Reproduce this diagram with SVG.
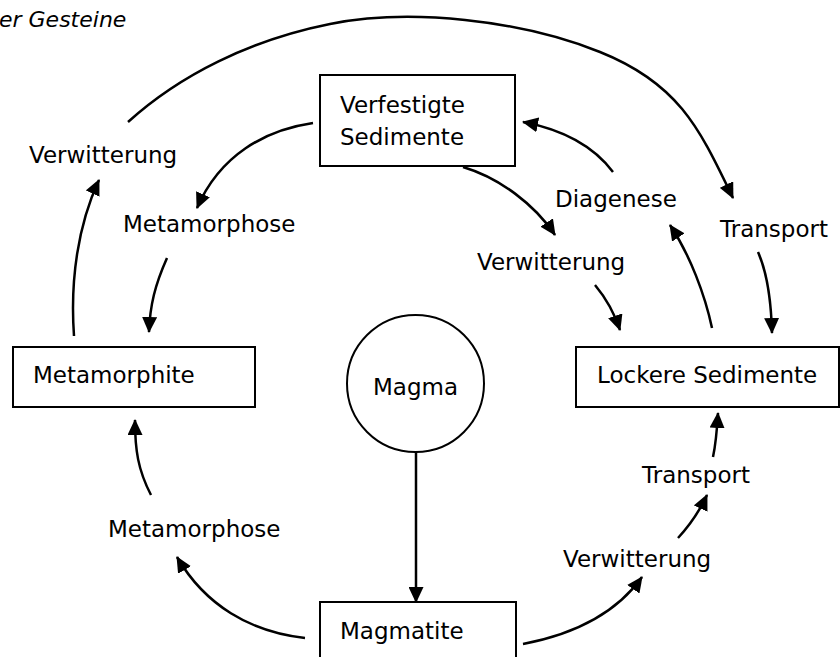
<svg xmlns="http://www.w3.org/2000/svg" width="840" height="657" viewBox="0 0 840 657">
<style>
text { font-family: "DejaVu Sans", Verdana, sans-serif; font-size: 23px; fill: #000; }
.title { font-style: italic; font-size: 22px; }
.box { fill: #fff; stroke: #000; stroke-width: 2; }
.conn path, .conn line { fill: none; stroke: #000; stroke-width: 2.5; marker-end: url(#arr); }
</style>
<defs>
<marker id="arr" viewBox="0 0 16 15" refX="15" refY="7.5" markerWidth="16" markerHeight="15" orient="auto" markerUnits="userSpaceOnUse">
<path d="M0,0 L16,7.5 L0,15 z" fill="#000"/>
</marker>
</defs>
<rect x="0" y="0" width="840" height="657" fill="#fff"/>
<text class="title" x="-1" y="27">er Gesteine</text>

<g id="verfestigte">
<rect class="box" x="320" y="75" width="195" height="91"/>
<text x="340" y="113">Verfestigte</text>
<text x="340" y="145">Sedimente</text>
</g>
<g id="metamorphite">
<rect class="box" x="13" y="347" width="242" height="60"/>
<text x="33" y="383">Metamorphite</text>
</g>
<g id="magma">
<circle class="box" cx="415.5" cy="383.5" r="68.5"/>
<text x="373" y="395">Magma</text>
</g>
<g id="lockere">
<rect class="box" x="576" y="347" width="263" height="60"/>
<text x="597" y="383">Lockere Sedimente</text>
</g>
<g id="magmatite">
<rect class="box" x="320" y="602" width="196" height="70"/>
<text x="340" y="639">Magmatite</text>
</g>

<g id="labels">
<text x="29" y="163">Verwitterung</text>
<text x="123" y="232">Metamorphose</text>
<text x="108" y="537">Metamorphose</text>
<text x="555" y="207">Diagenese</text>
<text x="720" y="237">Transport</text>
<text x="477" y="270">Verwitterung</text>
<text x="642" y="483">Transport</text>
<text x="563" y="567">Verwitterung</text>
</g>

<g id="connectors" class="conn">
<path d="M128,122 C180,75 250,40 330,24 S520,20 600,52 S700,130 733,198"/>
<path d="M313,123 C265,130 220,155 197,208"/>
<path d="M167,258 C155,285 150,305 149,332"/>
<path d="M74,336 C70,280 78,225 99,180"/>
<path d="M305,638 C250,632 205,605 177,557"/>
<path d="M151,495 C138,470 135,450 135,420"/>
<path d="M523,644 C570,635 615,615 642,577"/>
<path d="M678,538 C690,525 700,510 707,495"/>
<path d="M713,457 C716,443 717,430 718,413"/>
<path d="M712,328 C705,295 690,255 670,225"/>
<path d="M613,172 C595,148 565,130 523,122"/>
<path d="M463,167 C500,178 535,205 555,235"/>
<path d="M595,285 C605,297 614,312 620,330"/>
<path d="M758,252 C766,270 771,295 772,333"/>
<path d="M416,452 L416,602"/>
</g>
</svg>
